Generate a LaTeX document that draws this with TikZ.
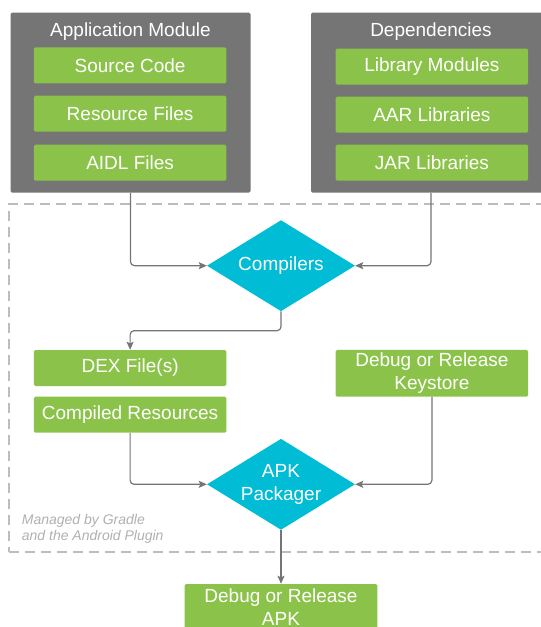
\documentclass[tikz,border=0pt]{standalone}
\usepackage{fontspec}
\setmainfont{Liberation Sans}
\usetikzlibrary{shapes.geometric,arrows.meta}
\definecolor{boxgray}{HTML}{757575}
\definecolor{filegreen}{HTML}{8BC34A}
\definecolor{toolcyan}{HTML}{00BCD4}
\definecolor{linegray}{HTML}{757575}
\definecolor{dashgray}{HTML}{BDBDBD}
\definecolor{notegray}{HTML}{B0B0B0}
\tikzset{
    modbox/.style={fill=boxgray, rounded corners=1.5pt, minimum width=240pt, minimum height=180pt, inner sep=0pt},
    modtitle/.style={text=white, anchor=base, inner sep=0pt, font=\fontsize{19}{23}\selectfont},
    filebox/.style={fill=filegreen, text=white, rounded corners=1.5pt, minimum width=192.6pt, minimum height=36pt, inner sep=0pt, align=center, font=\fontsize{19}{23}\selectfont},
    tooldia/.style={diamond, aspect=1.6, fill=toolcyan, text=white, inner sep=0pt, minimum width=148pt, minimum height=91pt, align=center, font=\fontsize{19}{23}\selectfont},
    gradlebox/.style={draw=dashgray, line width=2pt, dash pattern=on 10pt off 6pt, minimum width=550.7pt, minimum height=347.5pt, inner sep=0pt},
    gradlenote/.style={text=notegray, anchor=west, inner sep=0pt, align=left, font=\fontsize{14}{16}\selectfont\itshape},
    flow/.style={draw=linegray, line width=1.2pt, rounded corners=4pt, -{Stealth[length=8pt,width=7pt,inset=1.5pt]}}
}
\begin{document}
\begin{tikzpicture}[x=1pt,y=-1pt]
    \useasboundingbox (0,0) rectangle (541,627);
    \node[gradlebox] (g) at (284.7,377.8) {};
    \node[modbox] (am) at (130.5,102.7) {};
    \node[modbox] (dep) at (431,102.7) {};
    \node[modtitle] (amt) at (130.5,36) {Application Module};
    \node[modtitle] (dept) at (431,36) {Dependencies};
    \node[filebox] (src) at (130.1,65.3) {Source Code};
    \node[filebox] (res) at (130.1,113.7) {Resource Files};
    \node[filebox] (aidl) at (130.1,162.7) {AIDL Files};
    \node[filebox] (lib) at (431.9,66.5) {Library Modules};
    \node[filebox] (aar) at (431.9,114.7) {AAR Libraries};
    \node[filebox] (jar) at (431.9,162.7) {JAR Libraries};
    \node[tooldia] (comp) at (281,265.7) {Compilers};
    \node[filebox] (dex) at (130.1,368) {DEX File(s)};
    \node[filebox] (cres) at (130.1,414.7) {Compiled Resources};
    \node[filebox, minimum height=46.7pt] (key) at (431.9,373.3) {Debug or Release\\Keystore};
    \node[tooldia] (pkg) at (281,484.3) {APK\\Packager};
    \node[filebox, minimum height=47pt] (apk) at (281,607.5) {Debug or Release\\APK};
    \node[gradlenote] (note) at (21.7,528.9) {Managed by Gradle\\and the Android Plugin};
    \draw[flow] (am.south) |- (comp.west);
    \draw[flow] (dep.south) |- (comp.east);
    \draw[flow] (comp.south) -- ++(0,19.3) -| (dex.north);
    \draw[flow] (cres.south) |- (pkg.west);
    \draw[flow] (key.south) |- (pkg.east);
    \draw[flow] (pkg.south) -- (apk.north);
\end{tikzpicture}
\end{document}
